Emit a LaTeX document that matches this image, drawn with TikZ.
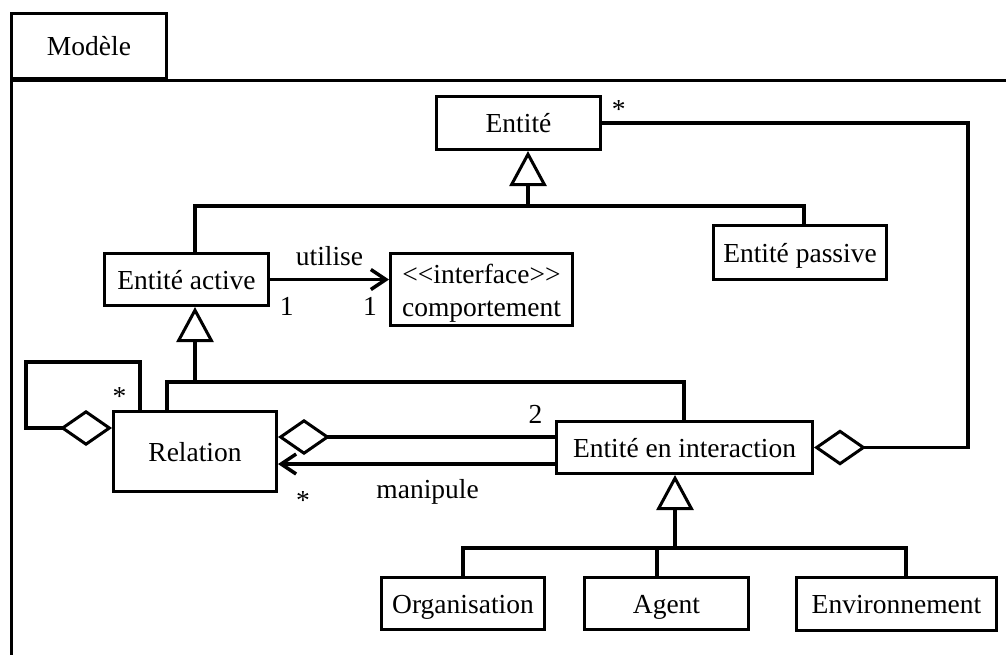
\documentclass[tikz,border=0pt]{standalone}
\usepackage{fontspec}
\setmainfont{Liberation Serif}
\usepackage{tikz}
\usetikzlibrary{arrows.meta,positioning}
\tikzset{box/.style={draw,line width=3pt,inner sep=0pt,align=center,font=\fontsize{27.5}{33}\selectfont},
  class/.style={box,text height=19.5pt,text depth=0pt},
  lbl/.style={inner sep=0pt,font=\fontsize{27.5}{33}\selectfont},
  link/.style={line width=3.5pt},
  gen/.style={link,-{Triangle[open,length=35pt,width=37pt,line width=3pt]}},
  agg/.style={link,-{Diamond[open,length=52pt,width=36pt,line width=3pt]}},
  nav/.style={link,-{Straight Barb[length=15pt,width=20pt]}}}

\begin{document}
\begin{tikzpicture}[x=1pt,y=-1pt]
    \useasboundingbox (0,0) rectangle (1006,654);
    \node[class,minimum width=155pt,minimum height=65pt] (tab) at (89,46) {Modèle};
    \draw[line width=3pt] (11.5,660) -- (11.5,80) -- (1012,80);

    \node[class,minimum width=164pt,minimum height=53pt] (ent) at (518.5,123) {Entité};
    \node[class,minimum width=173pt,minimum height=54pt] (pas) at (800,252.5) {Entité passive};
    \node[class,minimum width=164pt,minimum height=52pt] (act) at (186.5,279.5) {Entité active};
    \node[box,minimum width=182pt,minimum height=72pt] (comp) at (481.5,289.5) {\rule{0pt}{27pt}<{}<interface>{}>\\comportement};
    \node[class,minimum width=163pt,minimum height=80pt] (rel) at (195,451.5) {Relation};
    \node[class,minimum width=256pt,minimum height=52pt] (inter) at (684.5,447.5) {Entité en interaction};
    \node[class,minimum width=163pt,minimum height=52pt] (org) at (463,603.5) {Organisation};
    \node[class,minimum width=164pt,minimum height=52pt] (agt) at (666.5,603.5) {Agent};
    \node[class,minimum width=200pt,minimum height=53pt] (env) at (896.5,604) {Environnement};

    \coordinate (jE) at (528,206);
    \coordinate (jA) at (195,206);
    \coordinate (jP) at (804,206);
    \coordinate (jR) at (195,382);
    \coordinate (jRl) at (167,382);
    \coordinate (jI) at (684,382);
    \coordinate (jX) at (968,123);
    \coordinate (jG) at (675,548);
    \coordinate (jO) at (463,548);
    \coordinate (jAg) at (657,548);
    \coordinate (jEv) at (906,548);
    \coordinate (lT) at (140,362);
    \coordinate (lL) at (26,362);
    \coordinate (lB) at (26,428);

    \draw[gen] (jE) -- (jE |- ent.south);
    \draw[link] (jA |- act.north) -- (jA) -- (jP) -- (jP |- pas.north);
    \draw[gen] (jR) -- (jR |- act.south);
    \draw[link] (jRl |- rel.north) -- (jRl) -- (jI) -- (jI |- inter.north);
    \draw[nav] (act.east) -- (act.east -| comp.west) node[lbl,midway,above=12pt] {utilise}
      node[lbl,pos=0.14,below=16pt] {1} node[lbl,pos=0.84,below=16pt] {1};
    \draw[agg] ([yshift=10.5pt]inter.west) -- ([yshift=14.5pt]rel.east) node[lbl,pos=0.07,above=12pt] {2};
    \draw[nav] ([yshift=-16.5pt]inter.west) -- ([yshift=-12.5pt]rel.east) node[lbl,pos=0.46,below=14pt] {manipule}
      node[lbl,pos=0.91,below=26pt] {*};
    \draw[agg] (lT |- rel.north) -- (lT) node[lbl,pos=0.29,left=12pt] {*} -- (lL) -- (lB) -- (lB -| rel.west);
    \draw[agg] (ent.east) -- (jX) node[lbl,pos=0.046,above=3pt] {*} -- (jX |- inter.east) -- (inter.east);
    \draw[gen] (jG) -- (jG |- inter.south);
    \draw[link] (org.north) -- (jO) -- (jEv) -- (jEv |- env.north);
    \draw[link] (jAg) -- (jAg |- agt.north);
\end{tikzpicture}
\end{document}
